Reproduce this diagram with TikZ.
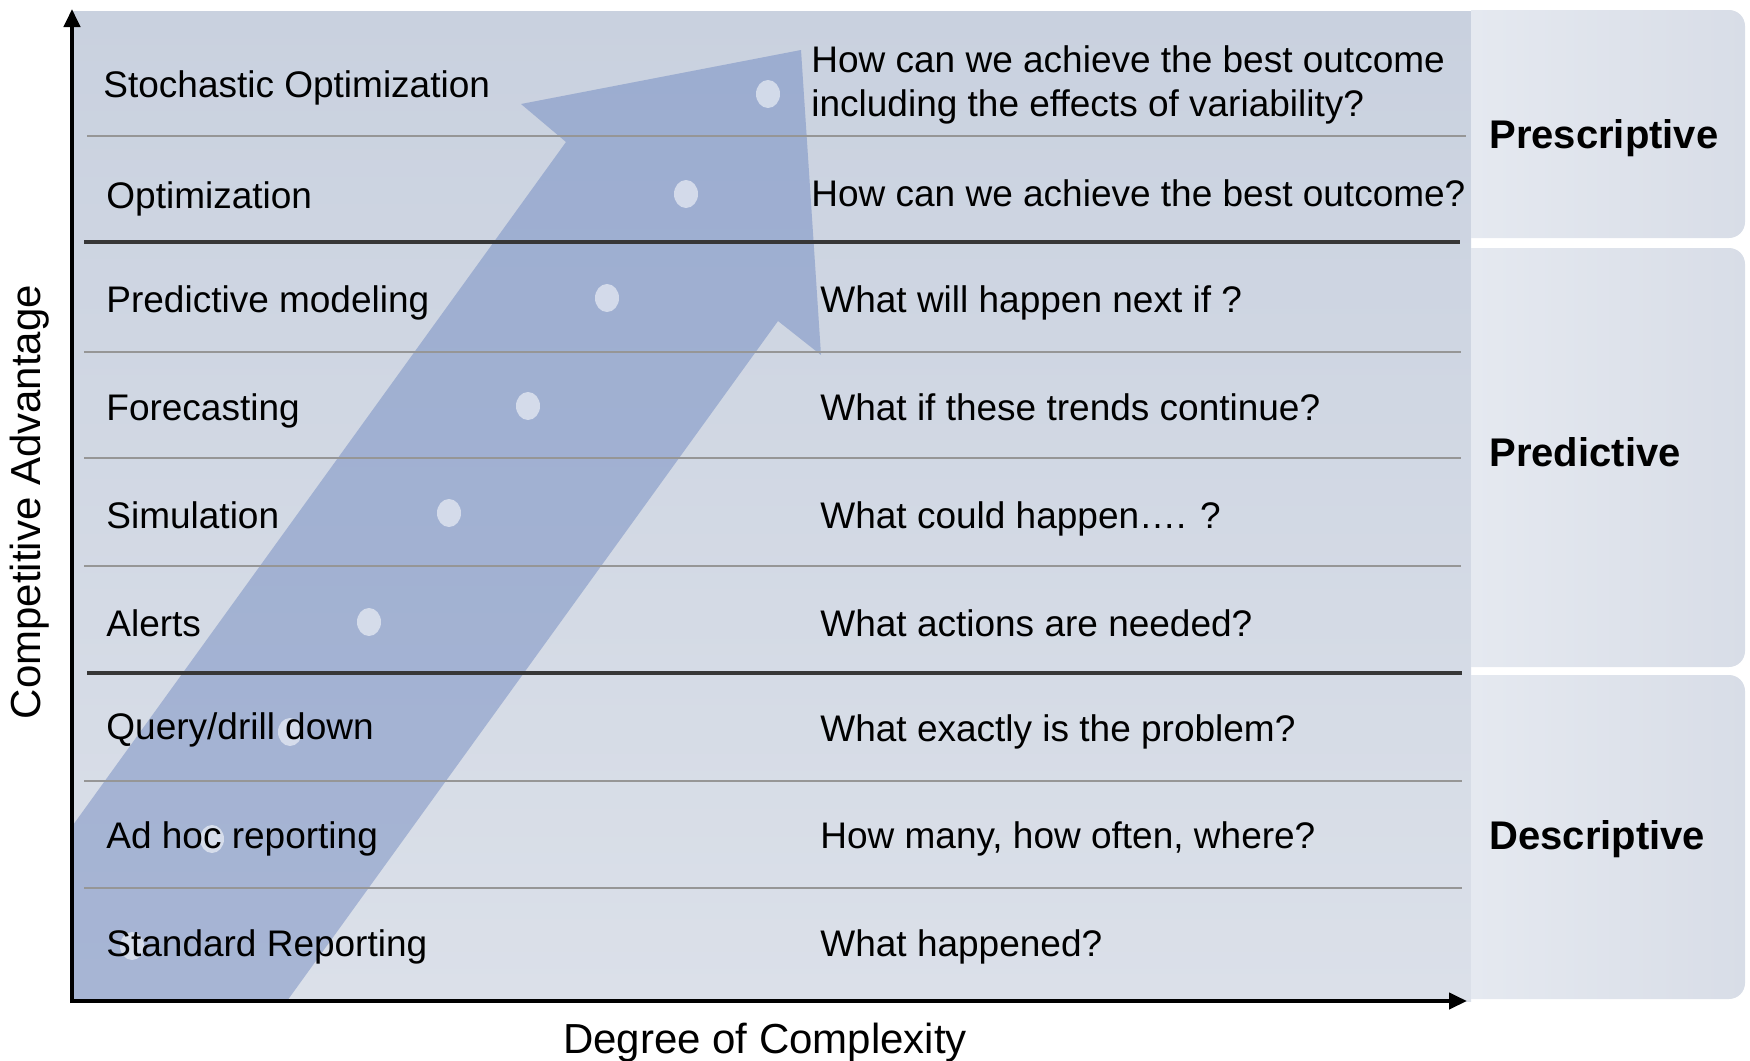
\documentclass[tikz,border=0pt]{standalone}
\usepackage{fontspec}
\setmainfont{Liberation Sans}
\usetikzlibrary{arrows.meta}
\definecolor{pantop}{RGB}{201,209,223}
\definecolor{panbot}{RGB}{219,224,233}
\definecolor{sideL}{RGB}{229,233,240}
\definecolor{sideR}{RGB}{216,221,231}
\definecolor{arrtop}{RGB}{156,173,208}
\definecolor{arrbot}{RGB}{167,181,212}
\definecolor{thinc}{RGB}{150,150,150}
\definecolor{thickc}{RGB}{55,55,55}
\begin{document}
\begin{tikzpicture}[x=0.5pt,y=-0.5pt,
  lab/.style={anchor=base west, font=\fontsize{18.5}{22}\selectfont, inner sep=0pt},
  catlab/.style={anchor=base west, font=\fontsize{20}{24}\selectfont\bfseries, inner sep=0pt},
  thinrule/.style={draw=thinc, line width=1pt},
  thickrule/.style={draw=thickc, line width=2pt},
  axisline/.style={draw=black, line width=2pt, -{Triangle[length=9pt,width=8pt]}},
  dotfill/.style={fill=white, fill opacity=0.55},
  axlab/.style={font=\fontsize{21}{25}\selectfont, inner sep=0pt}
]
\useasboundingbox (0,0) rectangle (1750,1060);
% main panel
\shade[top color=pantop, bottom color=panbot] (72,11) rectangle (1471,1001);
% side panels
\shade[left color=sideL, right color=sideR] (1471,238) -- (1471,10) [rounded corners=8pt] -- (1745,10) -- (1745,238) [sharp corners] -- cycle;
\shade[left color=sideL, right color=sideR] (1471,667) -- (1471,248) [rounded corners=8pt] -- (1745,248) -- (1745,667) [sharp corners] -- cycle;
\shade[left color=sideL, right color=sideR] (1471,999) -- (1471,675) [rounded corners=8pt] -- (1745,675) -- (1745,999) [sharp corners] -- cycle;
% big arrow
\begin{scope}
\clip (73,11) rectangle (1471,1001);
\shade[top color=arrtop, bottom color=arrbot] (-54,1001) -- (566,142) -- (521,104) -- (801,50) -- (821,355) -- (778,321) -- (287,1001) -- cycle;
\end{scope}
% dots
\foreach \px/\py in {768/94,686/194,607/298,528/406,449/513,369/622,290/732,212/839,132/946}
  \fill[dotfill] (\px,\py) ellipse [x radius=12, y radius=14];
% rules
\draw[thinrule] (87,136) -- (1466,136);
\draw[thickrule] (84,242) -- (1460,242);
\draw[thinrule] (84,352) -- (1461,352);
\draw[thinrule] (84,458) -- (1461,458);
\draw[thinrule] (84,566) -- (1461,566);
\draw[thickrule] (87,673) -- (1462,673);
\draw[thinrule] (84,781) -- (1462,781);
\draw[thinrule] (84,888) -- (1462,888);
% axes
\coordinate (O) at (72,1001);
\coordinate (ytop) at (72,9);
\coordinate (xend) at (1467,1001);
\draw[axisline] ([yshift=-1pt]O) -- (ytop);
\draw[axisline] ([xshift=-1pt]O) -- (xend);
% left labels
\node[lab] (l1) at (103,97) {Stochastic Optimization};
\node[lab] (l2) at (106,208) {Optimization};
\node[lab] (l3) at (106,312) {Predictive modeling};
\node[lab] (l4) at (106,420) {Forecasting};
\node[lab] (l5) at (106,528) {Simulation};
\node[lab] (l6) at (106,636) {Alerts};
\node[lab] (l7) at (106,739) {Query/drill down};
\node[lab] (l8) at (106,848) {Ad hoc reporting};
\node[lab] (l9) at (106,956) {Standard Reporting};
% right questions
\node[lab] (q1a) at (811,72) {How can we achieve the best outcome};
\node[lab] (q1b) at (811,116) {including the effects of variability?};
\node[lab] (q2) at (811,206) {How can we achieve the best outcome?};
\node[lab] (q3) at (820,312) {What will happen next if ?};
\node[lab] (q4) at (820,420) {What if these trends continue?};
\node[lab] (q5) at (820,528) {What could happen\dots. ?};
\node[lab] (q6) at (820,636) {What actions are needed?};
\node[lab] (q7) at (820,741) {What exactly is the problem?};
\node[lab] (q8) at (820,848) {How many, how often, where?};
\node[lab] (q9) at (820,956) {What happened?};
% categories
\node[catlab] (c1) at (1489,148) {Prescriptive};
\node[catlab] (c2) at (1489,466) {Predictive};
\node[catlab] (c3) at (1489,849) {Descriptive};
% axis labels
\node[axlab, rotate=90] (yl) at (30,502) {Competitive Advantage};
\node[axlab, anchor=base] (xl) at (765,1053) {Degree of Complexity};
\end{tikzpicture}
\end{document}
